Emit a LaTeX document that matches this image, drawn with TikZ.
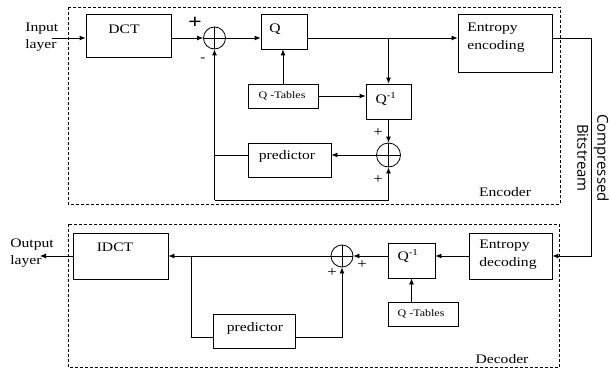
\documentclass[tikz,border=0pt]{standalone}
\usepackage{fontspec}
\setmainfont[FakeStretch=1.2]{Liberation Serif}
\newfontfamily\bitfont{Open Sans}
\usetikzlibrary{arrows.meta}
\begin{document}
\begin{tikzpicture}[x=1pt,y=-1pt,line width=0.8pt,
  >={Latex[length=6pt,width=5pt]},
  blk/.style={draw,inner sep=0pt},
  sumc/.style={draw,circle,inner sep=0pt},
  txt/.style={inner sep=0pt,font=\fontsize{13}{17}\selectfont},
  small/.style={inner sep=0pt,font=\fontsize{10}{12}\selectfont},
  sgn/.style={inner sep=0pt,font=\fontsize{14}{14}\selectfont},
  dashbox/.style={draw,dash pattern=on 3pt off 2pt,line width=0.6pt}]
\useasboundingbox (0,0) rectangle (610,369);
% frames
\draw[dashbox] (68,7) rectangle (560,204);
\draw[dashbox] (68,224) rectangle (559,367.5);
% encoder blocks
\node[blk,minimum width=85pt,minimum height=43pt] (dct) at (128.5,35.5) {};
\node[txt] at (124,29) {DCT};
\node[sumc,minimum size=22pt] (s1) at (214.5,38) {};
\node[blk,minimum width=46pt,minimum height=35pt] (q) at (284,31.5) {};
\node[txt] at (275,29) {Q};
\node[blk,minimum width=94pt,minimum height=58pt] (ee) at (505,43) {};
\node[txt,align=left,anchor=west,font=\fontsize{13}{18}\selectfont] at (467,38) {Entropy\\encoding};
\node[blk,minimum width=45pt,minimum height=35pt] (qi) at (388.5,101.5) {};
\node[txt] at (386,99) {Q\textsuperscript{-1}};
\node[blk,minimum width=70pt,minimum height=24pt] (qt) at (283,96) {};
\node[small] at (282,96) {Q -Tables};
\node[sumc,minimum size=24pt] (s2) at (388.5,155) {};
\node[blk,minimum width=83pt,minimum height=34pt] (pe) at (289.5,160) {};
\node[txt] at (287,156) {predictor};
\node[txt] at (505,192) {Encoder};
% input
\node[txt,align=left,anchor=west] (inp) at (25,37) {Input\\layer};
\coordinate (in) at (52,38);
% sum crosses
\draw (s1.north) -- (s1.south) (s1.west) -- (s1.east);
\draw (s2.north) -- (s2.south) (s2.west) -- (s2.east);
% signs
\node[inner sep=0pt,font=\bfseries\fontsize{20}{20}\selectfont] at (195,23) {+};
\node[inner sep=0pt,font=\fontsize{13}{13}\selectfont] at (203,60) {-};
\node[sgn] at (378,133) {+};
\node[sgn] at (378,180) {+};
% encoder connectors
\draw[->] (in) -- (dct.west |- in);
\draw[->] (dct.east |- s1) -- (s1.west);
\draw[->] (s1.east) -- (q.west |- s1);
\draw[->] (q.east |- s1) -- (ee.west |- s1);
\coordinate (br) at (qi.north |- s1);
\draw[->] (br) -- (qi.north);
\draw[->] (qt.north) -- (qt.north |- q.south);
\draw[->] (qt.east) -- (qi.west |- qt.east);
\draw[->] (qi.south) -- (s2.north);
\draw[->] (s2.west) -- (pe.east |- s2.west);
\draw (pe.west |- s2) -- (s1.south |- s2);
\coordinate (fb) at (214.5,200);
\draw[->] (s1.south |- fb) -- (s1.south);
\draw[->] (s1.south |- fb) -| (s2.south);
% compressed bitstream
\coordinate (cb) at (591,38);
\node[rotate=-90,align=center,inner sep=0pt,font=\bitfont\fontsize{15}{20}\selectfont] at (593,158) {Compressed\\Bitstream};
% decoder blocks
\node[blk,minimum width=83pt,minimum height=46pt] (ed) at (510.5,256) {};
\node[txt,align=left,anchor=west,font=\fontsize{13}{18}\selectfont] at (479,255) {Entropy\\decoding};
\node[blk,minimum width=47pt,minimum height=35pt] (qd) at (411.5,260.5) {};
\node[txt] at (408,256) {Q\textsuperscript{-1}};
\node[blk,minimum width=70pt,minimum height=24pt] (qtd) at (423,314) {};
\node[small] at (421,314) {Q -Tables};
\node[sumc,minimum size=22pt] (s3) at (342,256) {};
\draw (s3.north) -- (s3.south) (s3.west) -- (s3.east);
\node[blk,minimum width=95pt,minimum height=46pt] (idct) at (120.5,256) {};
\node[txt] at (115,247) {IDCT};
\node[blk,minimum width=82pt,minimum height=34pt] (pd) at (254,331) {};
\node[txt] at (255,328) {predictor};
\node[txt] at (502,359) {Decoder};
\node[txt,align=left,anchor=west] (outp) at (10,253) {Output\\layer};
\coordinate (out) at (40,256);
\node[sgn] at (332,273) {+};
\node[sgn] at (362,265) {+};
% decoder connectors
\draw[->] (ee.east |- s1) -- (cb) -- (cb |- ed.east) -- (ed.east);
\draw[->] (ed.west) -- (qd.east |- ed.west);
\draw[->] (qd.west |- s3) -- (s3.east);
\draw[->] (s3.west) -- (idct.east |- s3);
\draw[->] (idct.west) -- (out);
\draw[->] (qd.south |- qtd.north) -- (qd.south);
\coordinate (db) at (191,256);
\draw (db) |- ([yshift=-6pt]pd.west);
\draw[->] ([yshift=-6pt]pd.east) -| (s3.south);
\end{tikzpicture}
\end{document}
